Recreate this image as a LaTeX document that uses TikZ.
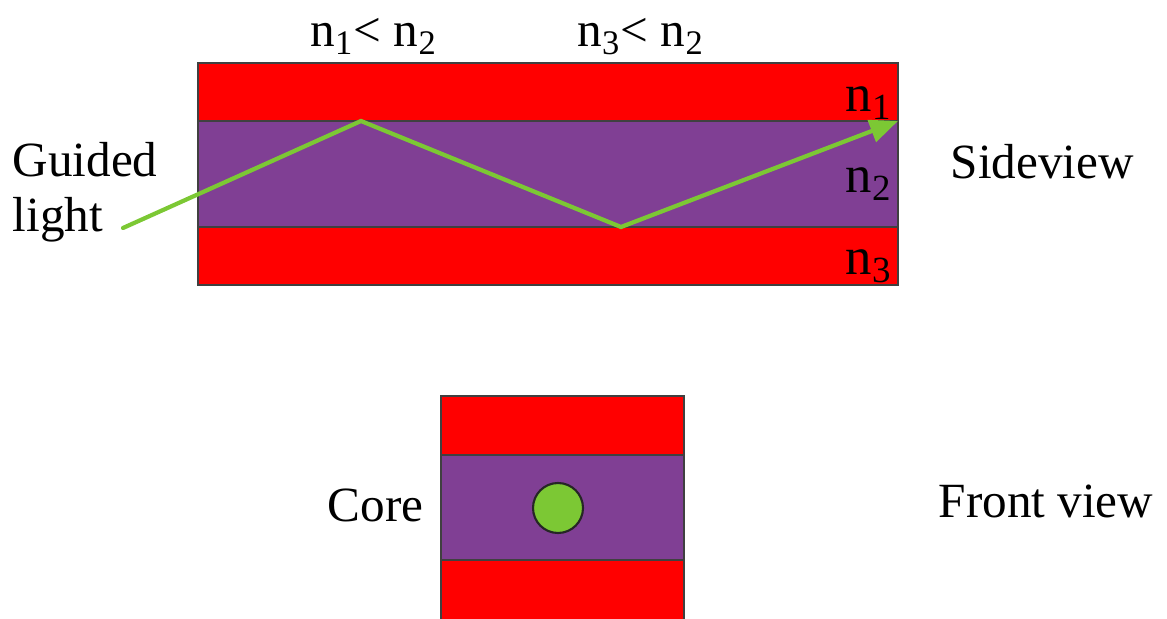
\documentclass[tikz,border=0pt]{standalone}
\usepackage{fontspec}
\setmainfont{LiberationSerif}[Extension=.ttf,UprightFont=*-Regular,BoldFont=*-Bold,ItalicFont=*-Italic,BoldItalicFont=*-BoldItalic]
\usetikzlibrary{arrows.meta,positioning}
\definecolor{cladred}{RGB}{255,0,0}
\definecolor{corepurple}{RGB}{128,63,148}
\definecolor{raygreen}{RGB}{124,200,52}

\begin{document}
\begin{tikzpicture}[
  clad/.style={fill=cladred,draw=black!75,line width=0.5pt},
  core/.style={fill=corepurple,draw=black!75,line width=0.5pt},
  ray/.style={raygreen,line width=1.2pt,line cap=round},
  lbl/.style={inner sep=0pt,font=\fontsize{14}{15.6}\selectfont},
  idx/.style={inner sep=0pt,font=\fontsize{15}{17}\selectfont}]
  \useasboundingbox (0,0) rectangle (11.67,6.18);
  \clip (0,0) rectangle (11.67,6.18);
  % Side view: cladding - core - cladding
  \draw[clad] (1.98,5.55) rectangle (8.98,4.97);
  \draw[core] (1.98,4.97) rectangle (8.98,3.91);
  \draw[clad] (1.98,3.91) rectangle (8.98,3.33);
  % Front view
  \draw[clad] (4.41,2.22) rectangle (6.84,1.63);
  \draw[core] (4.41,1.63) rectangle (6.84,0.58);
  \draw[clad] (4.41,0.58) rectangle (6.84,-0.1);
  \node[draw=black!85,fill=raygreen,circle,minimum size=0.5cm,inner sep=0,line width=0.6pt] (fiber) at (5.58,1.10) {};
  % Zig-zag ray through the core
  \coordinate (start) at (1.23,3.90);
  \coordinate (hit1) at (3.61,4.97);
  \coordinate (hit2) at (6.21,3.91);
  \coordinate (exit) at (8.98,4.97);
  \draw[ray,-{Triangle[length=8pt,width=6.5pt]}] (start) -- (hit1) -- (hit2) -- (exit);
  % Index conditions
  \node[lbl,anchor=base] (cond1) at (3.74,5.71) {n\textsubscript{1}< n\textsubscript{2}};
  \node[lbl,anchor=base] (cond3) at (6.41,5.71) {n\textsubscript{3}< n\textsubscript{2}};
  % Layer indices
  \node[idx,anchor=base west] (idx1) at (8.45,5.06) {n\textsubscript{1}};
  \node[idx,anchor=base west] (idx2) at (8.45,4.25) {n\textsubscript{2}};
  \node[idx,anchor=base west] (idx3) at (8.45,3.43) {n\textsubscript{3}};
  % Captions
  \node[lbl,anchor=west,align=left] (guided) at (0.12,4.26) {Guided\\light};
  \node[lbl,anchor=base west] (side) at (9.50,4.39) {Sideview};
  \node[lbl,anchor=base west] (front) at (9.38,1.01) {Front view};
  \node[lbl,anchor=base east] (corelbl) at (4.24,0.97) {Core};
\end{tikzpicture}
\end{document}
